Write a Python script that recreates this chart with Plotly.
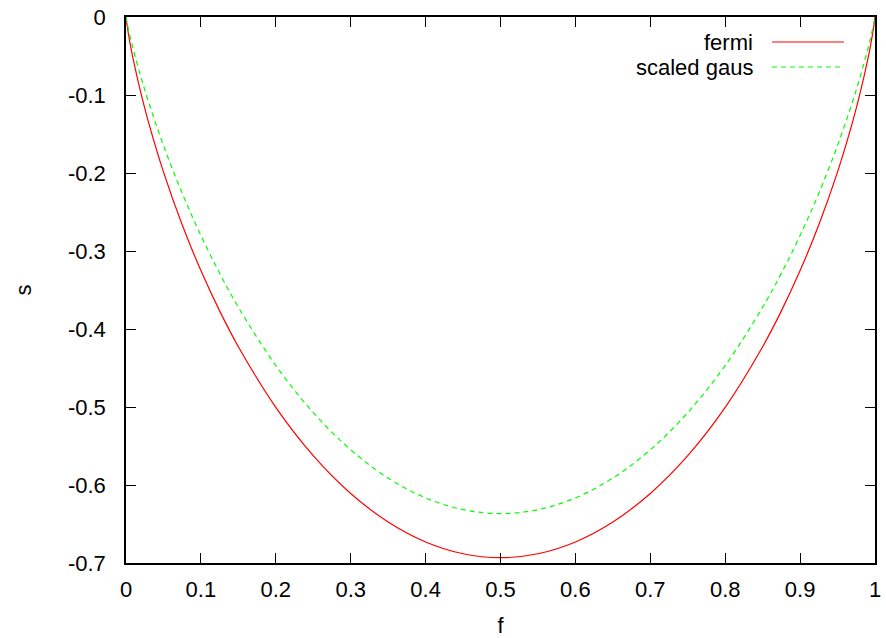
import plotly.graph_objects as go

# f values (left half, mirrored for right half)
f_left = [0.0, 0.001, 0.005, 0.01, 0.02, 0.03, 0.05, 0.075, 0.1, 0.125, 0.15,
          0.2, 0.25, 0.3, 0.35, 0.4, 0.45, 0.5]
fermi_left = [0.0, -0.00791, -0.03148, -0.05600, -0.09804, -0.13474, -0.19852,
              -0.26639, -0.32508, -0.37677, -0.42271, -0.50040, -0.56234,
              -0.61086, -0.64744, -0.67301, -0.68814, -0.69315]
gaus_left = [0.0, -0.00537, -0.02307, -0.04251, -0.07727, -0.10859, -0.16459,
             -0.22590, -0.28007, -0.32850, -0.37206, -0.44676, -0.50711,
             -0.55484, -0.59107, -0.61651, -0.63161, -0.63662]

f_vals = f_left + [round(1 - v, 4) for v in reversed(f_left[:-1])]
fermi = fermi_left + list(reversed(fermi_left[:-1]))
gaus = gaus_left + list(reversed(gaus_left[:-1]))

x_ticks = [0, 0.1, 0.2, 0.3, 0.4, 0.5, 0.6, 0.7, 0.8, 0.9, 1]
x_labels = ["0", "0.1", "0.2", "0.3", "0.4", "0.5", "0.6", "0.7", "0.8", "0.9", "1"]
y_ticks = [0, -0.1, -0.2, -0.3, -0.4, -0.5, -0.6, -0.7]
y_labels = ["0", "-0.1", "-0.2", "-0.3", "-0.4", "-0.5", "-0.6", "-0.7"]

RED = "#ff0000"
GREEN = "#00ff00"
FONT = "Liberation Sans, Arial, sans-serif"
FS = 22

fig = go.Figure()
fig.add_trace(go.Scatter(x=f_vals, y=fermi, mode="lines", name="fermi",
                         line=dict(color=RED, width=1.2, shape="spline"),
                         showlegend=False))
fig.add_trace(go.Scatter(x=f_vals, y=gaus, mode="lines", name="scaled gaus",
                         line=dict(color=GREEN, width=1.2, shape="spline", dash="5px,4px"),
                         showlegend=False))

axis_common = dict(showgrid=False, zeroline=False, showline=True, linecolor="black",
                   linewidth=1.5, mirror="allticks", ticks="inside", ticklen=10,
                   tickwidth=1, tickcolor="black", automargin=False,
                   tickfont=dict(family=FONT, size=FS, color="black"))

fig.update_xaxes(range=[0, 1], tickvals=x_ticks, ticktext=x_labels,
                 ticklabelstandoff=6,
                 title=dict(text="f", font=dict(family=FONT, size=FS, color="black"), standoff=24),
                 **axis_common)
fig.update_yaxes(range=[-0.7, 0], tickvals=y_ticks, ticktext=y_labels,
                 ticklabelstandoff=14,
                 title=dict(text="s", font=dict(family=FONT, size=FS, color="black"), standoff=30),
                 **axis_common)

# legend drawn gnuplot-style: right-aligned text with line sample on the right
legend_entries = [("fermi", RED, "solid", 0.9542), ("scaled gaus", GREEN, "5px,4px", 0.9084)]
for label, color, dash, yy in legend_entries:
    fig.add_annotation(xref="paper", yref="paper", x=0.8398, y=yy, text=label,
                       showarrow=False, xanchor="right", yanchor="middle",
                       font=dict(family=FONT, size=FS, color="black"))
    fig.add_shape(type="line", xref="paper", yref="paper", x0=0.8625, x1=0.9586,
                  y0=yy, y1=yy, line=dict(color=color, width=1.2, dash=dash))

fig.update_layout(width=886, height=638, margin=dict(l=126, r=11, t=17, b=75),
                  plot_bgcolor="white", paper_bgcolor="white")

fig.write_html("out.html")
